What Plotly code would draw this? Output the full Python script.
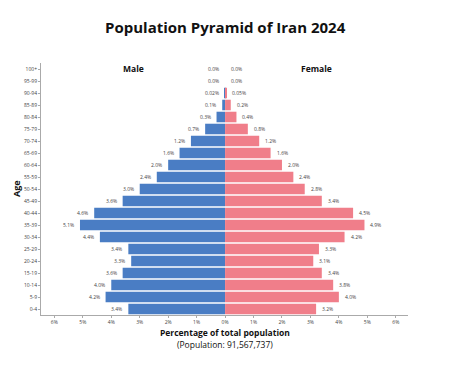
import plotly.graph_objects as go

age_groups = ["0-4", "5-9", "10-14", "15-19", "20-24", "25-29", "30-34", "35-39",
              "40-44", "45-49", "50-54", "55-59", "60-64", "65-69", "70-74",
              "75-79", "80-84", "85-89", "90-94", "95-99", "100+"]
male = [3.4, 4.2, 4.0, 3.6, 3.3, 3.4, 4.4, 5.1, 4.6, 3.6, 3.0, 2.4, 2.0, 1.6, 1.2,
        0.7, 0.3, 0.1, 0.02, 0.0, 0.0]
female = [3.2, 4.0, 3.8, 3.4, 3.1, 3.3, 4.2, 4.9, 4.5, 3.4, 2.8, 2.4, 2.0, 1.6, 1.2,
          0.8, 0.4, 0.2, 0.05, 0.0, 0.0]
tick_vals = [-6, -5, -4, -3, -2, -1, 0, 1, 2, 3, 4, 5, 6]
tick_text = ["6%", "5%", "4%", "3%", "2%", "1%", "0%", "1%", "2%", "3%", "4%", "5%", "6%"]


def fmt(v):
    if 0 < v < 0.1:
        return f"{v:.2f}%"
    return f"{v:.1f}%"


W, H = 450, 377
L, R, T, B = 41, 42, 63, 62
FONT = "Open Sans"
LBL = dict(size=5, color="#444444", family=FONT)

fig = go.Figure()
fig.add_trace(go.Bar(
    y=age_groups, x=[-v for v in male], orientation="h",
    marker=dict(color="#4a7dc4", line=dict(width=0)),
    name="Male", hoverinfo="skip",
))
fig.add_trace(go.Bar(
    y=age_groups, x=female, orientation="h",
    marker=dict(color="#f07e8a", line=dict(width=0)),
    name="Female", hoverinfo="skip",
))


def py(ypx):
    return 1 - (ypx - T) / (H - T - B)


def px(xpx):
    return (xpx - L) / (W - L - R)


def ann(text, x, y, size, angle=0):
    return dict(text=text, x=px(x), y=py(y), xref="paper", yref="paper",
                xanchor="center", yanchor="middle", showarrow=False,
                textangle=angle, font=dict(size=size, color="#111111", family=FONT))


annotations = [
    ann("<b>Population Pyramid of Iran 2024</b>", 225, 27, 15),
    ann("<b>Male</b>", 133, 68, 8.5),
    ann("<b>Female</b>", 316, 68, 8.5),
    ann("<b>Age</b>", 16, 188, 9, -90),
    ann("<b>Percentage of total population</b>", 225, 332, 8.5),
    ann("(Population: 91,567,737)", 225, 344, 8.5),
]

for g, m, f in zip(age_groups, male, female):
    annotations.append(dict(x=-m, y=g, xref="x", yref="y", text=fmt(m),
                            showarrow=False, xanchor="right", yanchor="middle",
                            xshift=-4, font=LBL))
    annotations.append(dict(x=f, y=g, xref="x", yref="y", text=fmt(f),
                            showarrow=False, xanchor="left", yanchor="middle",
                            xshift=4, font=LBL))

fig.update_layout(
    width=W, height=H,
    margin=dict(l=L, r=R, t=T, b=B),
    paper_bgcolor="white", plot_bgcolor="white",
    barmode="overlay", bargap=0.12,
    showlegend=False,
    annotations=annotations,
    font=dict(family=FONT),
    xaxis=dict(range=[-6.47, 6.43], tickvals=tick_vals, ticktext=tick_text,
               showgrid=False, zeroline=False, showline=True, linecolor="#aaaaaa",
               linewidth=1, ticks="outside", ticklen=2, tickcolor="#aaaaaa",
               tickfont=dict(size=5, color="#444444", family=FONT), fixedrange=True),
    yaxis=dict(categoryorder="array", categoryarray=age_groups, range=[-0.5, 20.5],
               showgrid=False, zeroline=False, showline=True, linecolor="#aaaaaa",
               linewidth=1, ticks="outside", ticklen=2, tickcolor="#aaaaaa",
               tickfont=dict(size=5, color="#444444", family=FONT), fixedrange=True),
)

fig.write_html("out.html", config={"displayModeBar": False},
               post_script="document.body.style.margin='0';")
